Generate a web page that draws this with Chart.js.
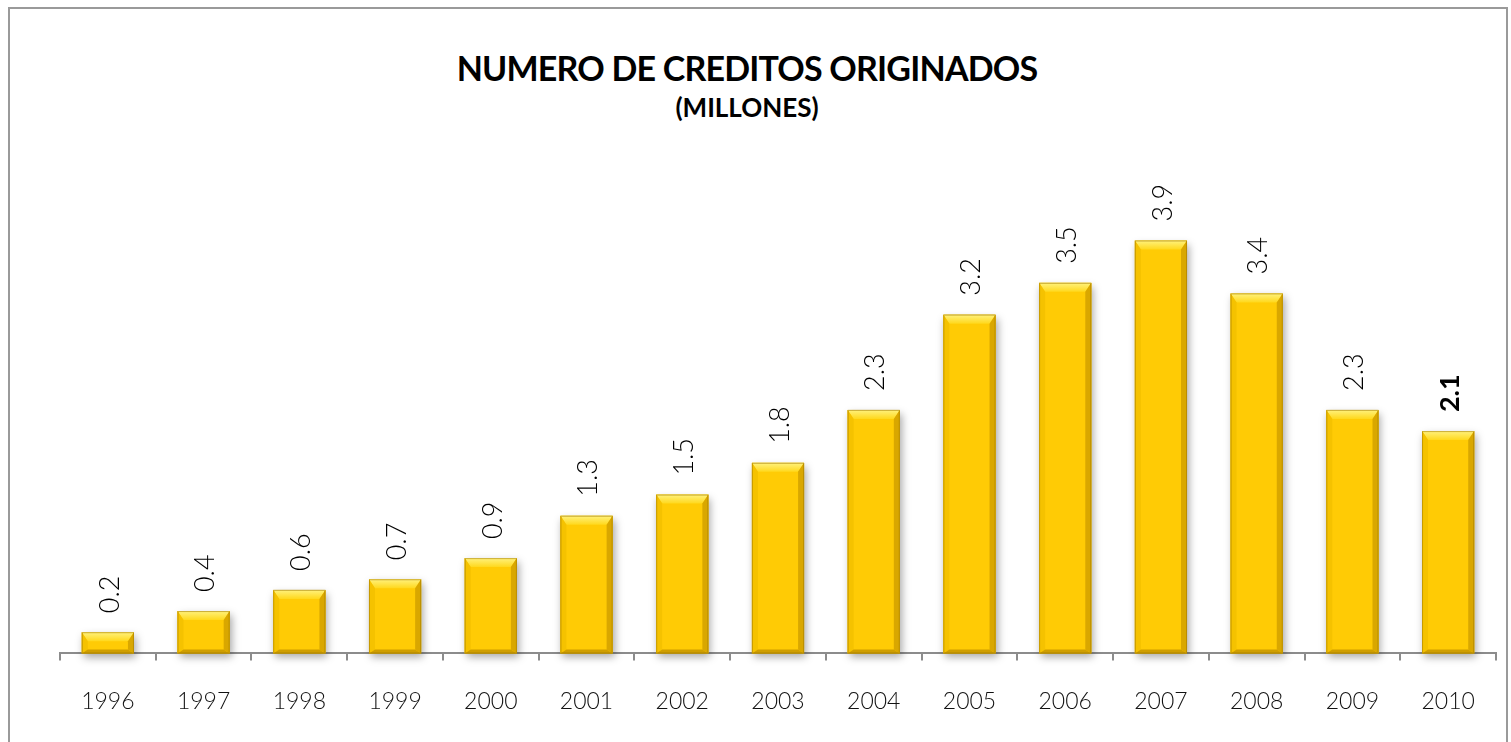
<!DOCTYPE html>
<html>
<head>
<meta charset="utf-8">
<script src="https://cdn.jsdelivr.net/npm/chart.js@4.4.0/dist/chart.umd.min.js"></script>
<style>
  html, body { margin: 0; padding: 0; background: #fff; }
  .wrap { position: relative; width: 1511px; height: 742px; overflow: hidden; }
  .frame { position: absolute; left: 8px; top: 7px; width: 1500px; height: 760px; border: 2px solid #9a9a9a; box-sizing: border-box; }
  .title { position: absolute; left: 0; width: 1494px; top: 49px; text-align: center; font-family: Lato, sans-serif; font-weight: 700; color: #000; }
  .title .main { font-size: 34px; line-height: 38px; letter-spacing: -0.8px; }
  .title .sub { font-size: 26px; line-height: 30px; margin-top: 5px; }
  canvas { position: absolute; left: 0; top: 0; }
</style>
</head>
<body>
<div class="wrap">
  <div class="frame"></div>
  <div class="title">
    <div class="main">NUMERO DE CREDITOS ORIGINADOS</div>
    <div class="sub">(MILLONES)</div>
  </div>
  <canvas id="chart" width="1511" height="742"></canvas>
</div>
<script>
const years = ['1996', '1997', '1998', '1999', '2000', '2001', '2002', '2003', '2004', '2005', '2006', '2007', '2008', '2009', '2010'];
const credits = [0.2, 0.4, 0.6, 0.7, 0.9, 1.3, 1.5, 1.8, 2.3, 3.2, 3.5, 3.9, 3.4, 2.3, 2.1];
const boldLabels = ['2010'];

// sombra bajo las barras
const barShadow = {
    id: 'barShadow',
    beforeDatasetsDraw(chart) {
        const ctx = chart.ctx;
        const bars = chart.getDatasetMeta(0).data;
        ctx.save();
        ctx.shadowColor = 'rgba(0,0,0,0.35)';
        ctx.shadowBlur = 8;
        ctx.shadowOffsetX = 2;
        ctx.shadowOffsetY = 4;
        ctx.fillStyle = '#c9a000';
        bars.forEach(b => {
            ctx.fillRect(b.x - b.width / 2, b.y, b.width, b.base - b.y);
        });
        ctx.restore();
    }
};

// efecto bisel + etiquetas giradas
const barBevel = {
    id: 'barBevel',
    afterDatasetsDraw(chart) {
        const ctx = chart.ctx;
        const bars = chart.getDatasetMeta(0).data;
        bars.forEach((b, i) => {
            const l = b.x - b.width / 2, r = b.x + b.width / 2, t = b.y, btm = b.base;
            const h = btm - t;
            const tb = Math.min(9, h / 2), sb = 6;
            ctx.save();
            // top bevel
            let g = ctx.createLinearGradient(0, t, 0, t + tb);
            g.addColorStop(0, '#fff27e');
            g.addColorStop(1, '#ffd81c');
            ctx.fillStyle = g;
            ctx.beginPath();
            ctx.moveTo(l, t); ctx.lineTo(r, t); ctx.lineTo(r - sb, t + tb); ctx.lineTo(l + sb, t + tb); ctx.closePath();
            ctx.fill();
            // left side
            ctx.fillStyle = '#f5c200';
            ctx.beginPath();
            ctx.moveTo(l, t); ctx.lineTo(l + sb, t + tb); ctx.lineTo(l + sb, btm - 4); ctx.lineTo(l, btm); ctx.closePath();
            ctx.fill();
            // right side
            ctx.fillStyle = '#d9a700';
            ctx.beginPath();
            ctx.moveTo(r, t); ctx.lineTo(r - sb, t + tb); ctx.lineTo(r - sb, btm - 4); ctx.lineTo(r, btm); ctx.closePath();
            ctx.fill();
            // bottom edge
            ctx.fillStyle = '#cf9e00';
            ctx.beginPath();
            ctx.moveTo(l, btm); ctx.lineTo(l + sb, btm - 4); ctx.lineTo(r - sb, btm - 4); ctx.lineTo(r, btm); ctx.closePath();
            ctx.fill();
            ctx.strokeStyle = 'rgba(160,120,0,0.55)';
            ctx.lineWidth = 1;
            ctx.strokeRect(l + 0.5, t + 0.5, b.width - 1, h - 1);
            ctx.restore();

            // etiqueta
            ctx.save();
            ctx.translate(b.x, t - 19);
            ctx.rotate(-Math.PI / 2);
            const bold = boldLabels.includes(years[i]);
            ctx.font = (bold ? '700 ' : '300 ') + '27px Lato, sans-serif';
            ctx.fillStyle = '#000';
            ctx.textAlign = 'left';
            ctx.textBaseline = 'middle';
            ctx.fillText(String(credits[i]), 0, 2);
            ctx.restore();
        });
    }
};

new Chart(document.getElementById('chart'), {
    type: 'bar',
    data: {
        labels: years,
        datasets: [{
            data: credits,
            backgroundColor: '#ffcb05',
            borderWidth: 0,
            categoryPercentage: 1,
            barPercentage: 0.545
        }]
    },
    options: {
        responsive: false,
        animation: false,
        layout: { padding: { left: 60, right: 15, top: 177, bottom: 0 } },
        scales: {
            x: {
                grid: { drawOnChartArea: false, drawTicks: true, tickLength: 7, color: '#8c8c8c', lineWidth: 2 },
                border: { color: '#8c8c8c', width: 2 },
                ticks: { color: '#111', font: { family: 'Lato, sans-serif', size: 23, weight: 300 }, padding: 27 }
            },
            y: { display: false, min: 0, max: 4.5 }
        },
        plugins: {
            legend: { display: false },
            tooltip: { enabled: false }
        }
    },
    plugins: [barShadow, barBevel]
});
</script>
</body>
</html>
